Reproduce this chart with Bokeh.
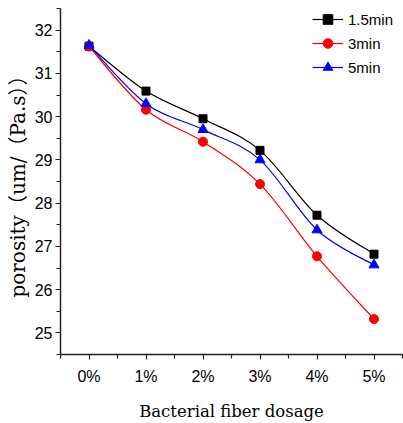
from bokeh.plotting import figure
from bokeh.models import FixedTicker, Legend, LegendItem, ColumnDataSource
from bokeh.embed import file_html
from bokeh.resources import INLINE

dosage = ["0%", "1%", "2%", "3%", "4%", "5%"]
series_names = ["1.5min", "3min", "5min"]
s15 = [31.63, 30.59, 29.95, 29.22, 27.72, 26.82]
s3 = [31.62, 30.16, 29.42, 28.44, 26.77, 25.32]
s5 = [31.65, 30.30, 29.70, 29.00, 27.38, 26.57]
colors = ["#000000", "#ff0000", "#0000ff"]
markers = ["square", "circle", "triangle"]

xs = list(range(len(dosage)))

p = figure(width=403, height=423, output_backend="svg", toolbar_location=None,
           x_range=(-0.5, 5.5), y_range=(24.5, 32.5),
           min_border_left=60, min_border_right=1, min_border_top=8, min_border_bottom=68)
p.outline_line_color = None
p.grid.visible = False
p.background_fill_color = "white"
p.border_fill_color = "white"


def spline_ctrl(x, y):
    n = len(x)
    X = [x[0]] + list(x) + [x[-1]]
    Y = [y[0]] + list(y) + [y[-1]]
    x0, y0, x1, y1, cx0, cy0, cx1, cy1 = ([] for _ in range(8))
    for i in range(n - 1):
        a, b, c, d = i, i + 1, i + 2, i + 3
        x0.append(X[b]); y0.append(Y[b]); x1.append(X[c]); y1.append(Y[c])
        cx0.append(X[b] + (X[c] - X[a]) / 6); cy0.append(Y[b] + (Y[c] - Y[a]) / 6)
        cx1.append(X[c] - (X[d] - X[b]) / 6); cy1.append(Y[c] - (Y[d] - Y[b]) / 6)
    return dict(x0=x0, y0=y0, x1=x1, y1=y1, cx0=cx0, cy0=cy0, cx1=cx1, cy1=cy1)


items = []
for name, ys, col, mk in zip(series_names, [s15, s3, s5], colors, markers):
    src = ColumnDataSource(spline_ctrl(xs, ys))
    p.bezier(x0="x0", y0="y0", x1="x1", y1="y1", cx0="cx0", cy0="cy0",
             cx1="cx1", cy1="cy1", source=src, line_color=col, line_width=1.2)
    sz = {"square": 8, "circle": 9, "triangle": 10}[mk]
    sc = p.scatter(xs, ys, marker=mk, size=sz, fill_color=col, line_color=col)
    lp = p.line([xs[0], xs[0]], [ys[0], ys[0]], line_color=col, line_width=1.2)
    items.append(LegendItem(label=name, renderers=[lp, sc]))

legend = Legend(items=items, location=(252, 275))
legend.background_fill_alpha = 0
legend.border_line_color = None
legend.padding = 0
legend.margin = 0
legend.spacing = 0
legend.glyph_width = 31
legend.glyph_height = 24
legend.label_height = 24
legend.label_standoff = 5
legend.label_text_font = "Liberation Sans"
legend.label_text_font_size = "15px"
legend.label_text_color = "#000000"
p.add_layout(legend, "center")

p.xaxis.ticker = FixedTicker(ticks=xs, minor_ticks=[v + 0.5 for v in range(-1, 6)])
p.xaxis.major_label_overrides = {i: lab for i, lab in enumerate(dosage)}
p.yaxis.ticker = FixedTicker(ticks=list(range(25, 33)),
                             minor_ticks=[24.5 + 0.5 * k for k in range(17)])

for ax in [p.xaxis[0], p.yaxis[0]]:
    ax.axis_line_color = "#222222"
    ax.axis_line_width = 1.5
    ax.major_tick_line_color = "#222222"
    ax.minor_tick_line_color = "#222222"
    ax.major_tick_line_width = 1.2
    ax.minor_tick_line_width = 1.2
    ax.major_tick_in = 0
    ax.major_tick_out = 5
    ax.minor_tick_in = 0
    ax.minor_tick_out = 4
    ax.major_label_text_font = "Liberation Sans"
    ax.major_label_text_font_size = "16px"
    ax.major_label_text_color = "#000000"
    ax.axis_label_text_font_style = "normal"
    ax.axis_label_text_color = "#000000"

p.xaxis.axis_label = "Bacterial fiber dosage"
p.xaxis.axis_label_text_font = "DejaVu Serif"
p.xaxis.axis_label_text_font_size = "16.5px"
p.xaxis.major_label_standoff = 8
p.xaxis.axis_label_standoff = 14

p.yaxis.axis_label = "porosity（um/（Pa.s））"
p.yaxis.axis_label_text_font = "DejaVu Serif, Noto Sans CJK SC"
p.yaxis.axis_label_text_font_size = "20px"
p.yaxis.major_label_standoff = 3
p.yaxis.axis_label_standoff = 2

open("out.html", "w").write(file_html(p, INLINE))
